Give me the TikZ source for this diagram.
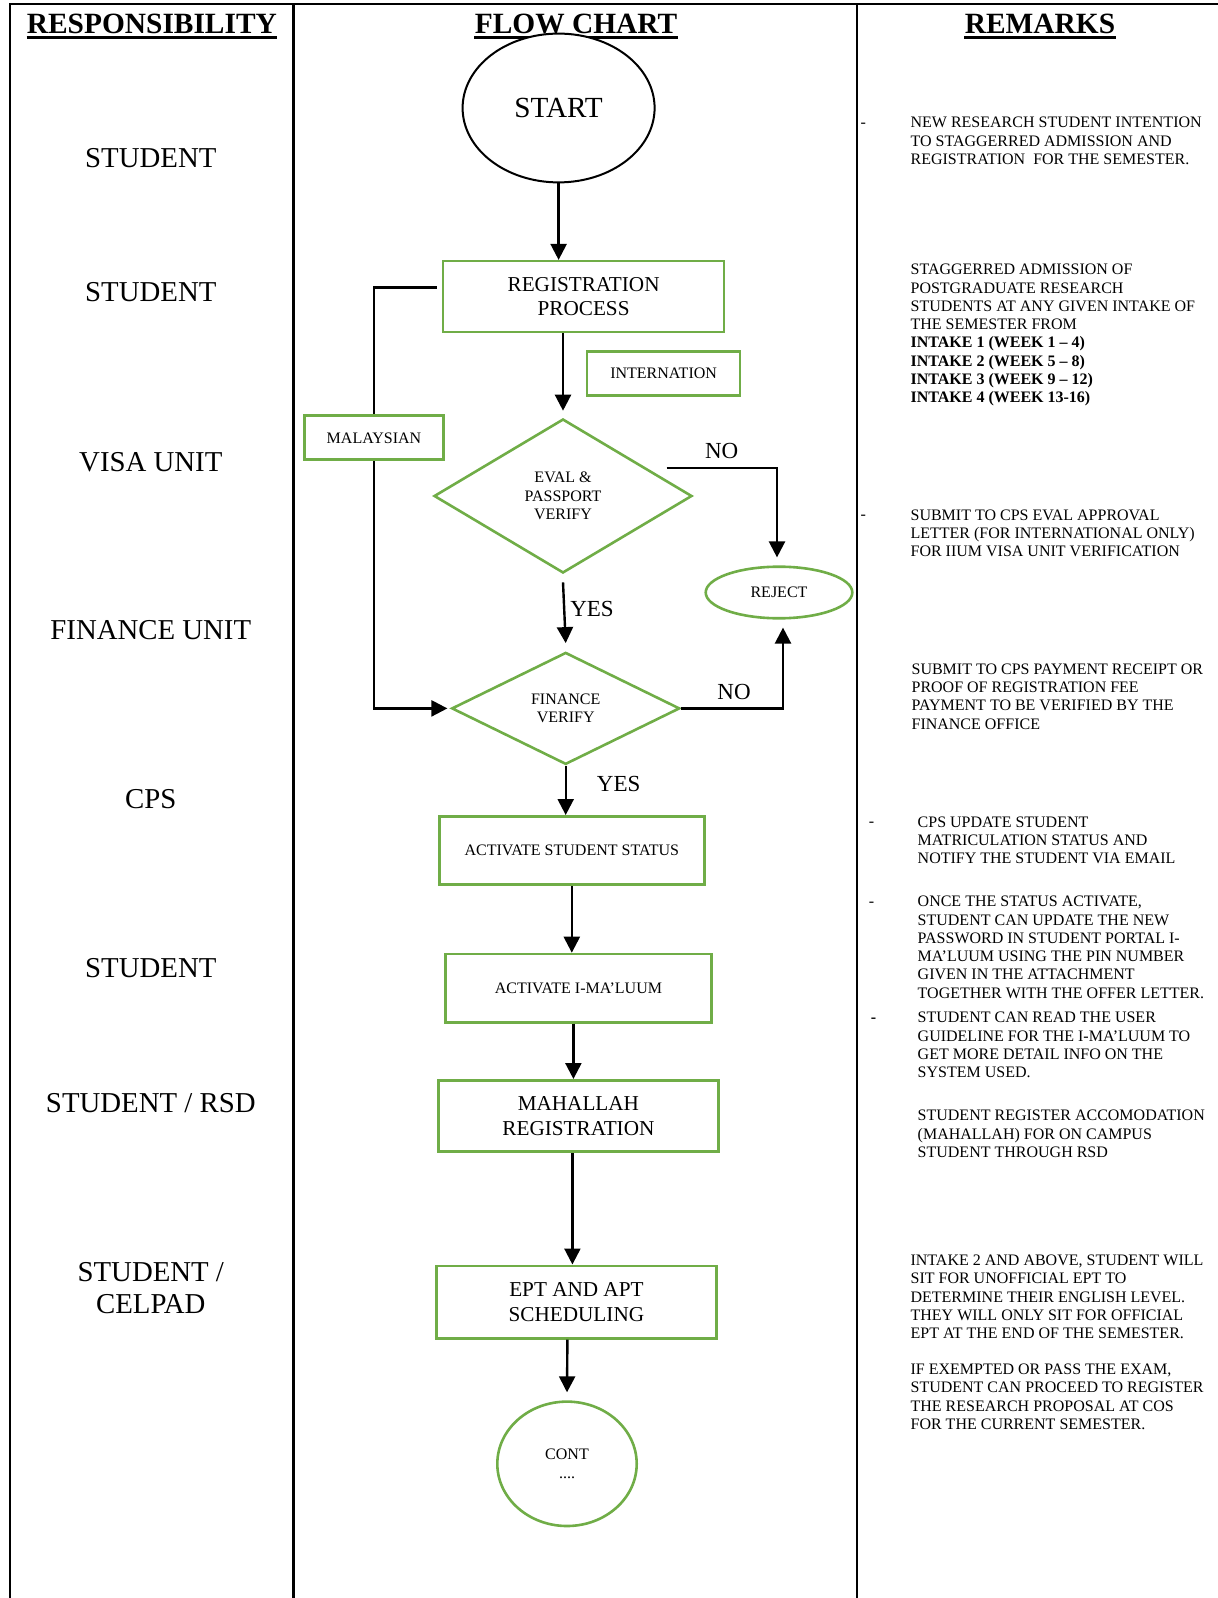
\documentclass[tikz,border=0pt]{standalone}
\usepackage{fontspec}
\setmainfont{Liberation Serif}
\usetikzlibrary{shapes.geometric,arrows.meta}
\definecolor{boxgreen}{RGB}{112,173,71}

\begin{document}
\begin{tikzpicture}[x=0.5pt,y=-0.5pt]
    \tikzset{FrameStyle/.style = {line width=1.3pt},
      HeadStyle/.style = {inner sep=0pt, anchor=base, font=\fontsize{14.7}{16}\selectfont\bfseries},
      RoleStyle/.style = {inner sep=0pt, align=center, font=\fontsize{14.4}{16.3}\selectfont},
      NoteStyle/.style = {inner sep=0pt, anchor=north west, align=left, font=\fontsize{8}{9.15}\selectfont},
      DashStyle/.style = {inner sep=0pt, anchor=base, font=\fontsize{8}{9.15}\selectfont},
      BoxStyle/.style = {%
        shape= rectangle,
        draw= boxgreen,
        line width= 1.3pt,
        fill= white,
        inner sep= 0pt,
        align= center,
        font= \fontsize{10.6}{12.2}\selectfont},
      SmallBoxStyle/.style = {BoxStyle, font=\fontsize{8}{9.2}\selectfont},
      DecStyle/.style = {SmallBoxStyle, shape=diamond, fill=none},
      EndStyle/.style = {SmallBoxStyle, shape=ellipse},
      ArrowStyle/.style = {-{Triangle[length=8pt,width=8pt]}, line width=1.2pt},
      LineStyle/.style = {line width=1.2pt},
      AnsStyle/.style = {inner sep=0pt, font=\fontsize{11.5}{13}\selectfont}}
    \useasboundingbox (0,0) rectangle (1218,1598);

    % table frame
    \draw[FrameStyle] (10,1598) -- (10,4) -- (1218,4);
    \draw[FrameStyle] (293.5,4) -- (293.5,1598);
    \draw[FrameStyle] (857,4) -- (857,1598);

    % headings
    \node[HeadStyle] (hresp) at (151.9,33.3) {RESPONSIBILITY};
    \node[HeadStyle] (hflow) at (576,33.3) {FLOW CHART};
    \node[HeadStyle] (hrem) at (1040,33.3) {REMARKS};
    \foreach \h in {hresp,hflow,hrem}
      \draw[line width=1.2pt] ([yshift=-2.2pt]\h.base west) -- ([yshift=-2.2pt]\h.base east);

    % responsibility column
    \node[RoleStyle] (r1) at (150.8,158) {STUDENT};
    \node[RoleStyle] (r2) at (150.8,292.5) {STUDENT};
    \node[RoleStyle] (r3) at (150.8,461.7) {VISA UNIT};
    \node[RoleStyle] (r4) at (150.8,629.9) {FINANCE UNIT};
    \node[RoleStyle] (r5) at (150.8,799) {CPS};
    \node[RoleStyle] (r6) at (150.8,968.2) {STUDENT};
    \node[RoleStyle] (r7) at (150.8,1102.8) {STUDENT / RSD};
    \node[RoleStyle] (r8) at (150.8,1288) {STUDENT /\\CELPAD};

    % flow chart
    \node[EndStyle, draw=black, line width=1pt, minimum width=96pt, minimum height=74.4pt,
      font=\fontsize{14.6}{16}\selectfont] (start) at (558.6,108) {START};
    \node[BoxStyle, minimum width=140.5pt, minimum height=35.5pt] (reg) at (583.6,296.7) {REGISTRATION\\PROCESS};
    \node[SmallBoxStyle, minimum width=76.5pt, minimum height=22pt] (intl) at (663.6,373.5) {INTERNATION};
    \node[SmallBoxStyle, minimum width=69.3pt, minimum height=22pt] (mal) at (374,437.8) {MALAYSIAN};
    \node[DecStyle, minimum width=129pt, minimum height=77pt] (eval) at (563,496) {EVAL \&\\PASSPORT\\VERIFY};
    \node[EndStyle, minimum width=73.3pt, minimum height=25.8pt] (reject) at (779,592.5) {REJECT};
    \node[DecStyle, minimum width=114pt, minimum height=56pt, aspect=2] (fin) at (565.7,708.4) {FINANCE\\VERIFY};
    \node[SmallBoxStyle, minimum width=132.5pt, minimum height=34.2pt] (act1) at (571.8,850.5) {ACTIVATE STUDENT STATUS};
    \node[SmallBoxStyle, minimum width=133pt, minimum height=34.2pt] (act2) at (578.4,988.2) {ACTIVATE I-MA’LUUM};
    \node[BoxStyle, minimum width=140pt, minimum height=35.7pt] (mah) at (578.4,1116) {MAHALLAH\\REGISTRATION};
    \node[BoxStyle, minimum width=140pt, minimum height=36.2pt] (ept) at (576.4,1302) {EPT AND APT\\SCHEDULING};
    \node[EndStyle, minimum width=69.7pt, minimum height=62.2pt] (cont) at (567,1463.8) {CONT\\....};

    \coordinate (evalno) at (666.7,468.3);

    \draw[ArrowStyle] (start.south) -- (start.south |- reg.north);
    \draw[ArrowStyle] (reg.south -| eval.north) -- ([yshift=3.5pt]eval.north);
    \draw[LineStyle] ([xshift=-2.5pt,yshift=4.5pt]reg.west) -| (mal.north);
    \draw[ArrowStyle] (mal.south) |- ([xshift=-1.5pt]fin.west);
    \draw[ArrowStyle] (evalno) -| ([xshift=-1pt,yshift=4pt]reject.north);
    \draw[ArrowStyle] ([yshift=-4pt]eval.south) -- ([yshift=4pt]fin.north);
    \draw[ArrowStyle] (fin.east) -| ([xshift=2pt,yshift=-4pt]reject.south);
    \draw[ArrowStyle] (fin.south) -- (fin.south |- act1.north);
    \draw[ArrowStyle] (act1.south) -- (act1.south |- act2.north);
    \draw[ArrowStyle] ([xshift=-2.5pt]act2.south) -- ([xshift=-2.5pt]act2.south |- mah.north);
    \draw[ArrowStyle] ([xshift=-3pt]mah.south) -- ([xshift=-3pt]mah.south |- ept.north);
    \draw[ArrowStyle] ([xshift=-4.5pt]ept.south) -- ([yshift=4pt]cont.north);

    \node[AnsStyle] (no1) at (721.7,450.7) {NO};
    \node[AnsStyle] (no2) at (734,692.3) {NO};
    \node[AnsStyle] (yes1) at (592,608.5) {YES};
    \node[AnsStyle] (yes2) at (618.7,783.8) {YES};

    % remarks column
    \node[DashStyle] (d1) at (863.3,127.6) {-};
    \node[DashStyle] (d3) at (863.3,520) {-};
    \node[DashStyle] (d5) at (871.4,826.8) {-};
    \node[DashStyle] (d6) at (871.4,906.3) {-};
    \node[DashStyle, font=\fontsize{8}{9.15}\selectfont\bfseries] (d7) at (873.5,1022.5) {-};

    \node[NoteStyle] (m1) at (910.2,117) {NEW RESEARCH STUDENT INTENTION\\TO STAGGERRED ADMISSION AND\\REGISTRATION~ FOR THE SEMESTER.};
    \node[NoteStyle] (m2) at (910.2,263.8) {STAGGERRED ADMISSION OF\\POSTGRADUATE RESEARCH\\STUDENTS AT ANY GIVEN INTAKE OF\\THE SEMESTER FROM\\
      \textbf{INTAKE 1 (WEEK 1 -- 4)}\\\textbf{INTAKE 2 (WEEK 5 -- 8)}\\\textbf{INTAKE 3 (WEEK 9 -- 12)}\\\textbf{INTAKE 4 (WEEK 13-16)}};
    \node[NoteStyle] (m3) at (910.2,509.4) {SUBMIT TO CPS EVAL APPROVAL\\LETTER (FOR INTERNATIONAL ONLY)\\FOR IIUM VISA UNIT VERIFICATION};
    \node[NoteStyle] (m4) at (911.2,663.3) {SUBMIT TO CPS PAYMENT RECEIPT OR\\PROOF OF REGISTRATION FEE\\PAYMENT TO BE VERIFIED BY THE\\FINANCE OFFICE};
    \node[NoteStyle] (m5) at (917.3,816.2) {CPS UPDATE STUDENT\\MATRICULATION STATUS AND\\NOTIFY THE STUDENT VIA EMAIL};
    \node[NoteStyle] (m6) at (917.3,895.7) {ONCE THE STATUS ACTIVATE,\\STUDENT CAN UPDATE THE NEW\\PASSWORD IN STUDENT PORTAL I-\\MA’LUUM USING THE PIN NUMBER\\GIVEN IN THE ATTACHMENT\\TOGETHER WITH THE OFFER LETTER.};
    \node[NoteStyle] (m7) at (917.3,1011.9) {STUDENT CAN READ THE USER\\GUIDELINE FOR THE I-MA’LUUM TO\\GET MORE DETAIL INFO ON THE\\SYSTEM USED.};
    \node[NoteStyle] (m8) at (917.3,1109.7) {STUDENT REGISTER ACCOMODATION\\(MAHALLAH) FOR ON CAMPUS\\STUDENT THROUGH RSD};
    \node[NoteStyle] (m9) at (910.2,1254.4) {INTAKE 2 AND ABOVE, STUDENT WILL\\SIT FOR UNOFFICIAL EPT TO\\DETERMINE THEIR ENGLISH LEVEL.\\THEY WILL ONLY SIT FOR OFFICIAL\\EPT AT THE END OF THE SEMESTER.};
    \node[NoteStyle] (m10) at (910.2,1363.5) {IF EXEMPTED OR PASS THE EXAM,\\STUDENT CAN PROCEED TO REGISTER\\THE RESEARCH PROPOSAL AT COS\\FOR THE CURRENT SEMESTER.};
\end{tikzpicture}
\end{document}
